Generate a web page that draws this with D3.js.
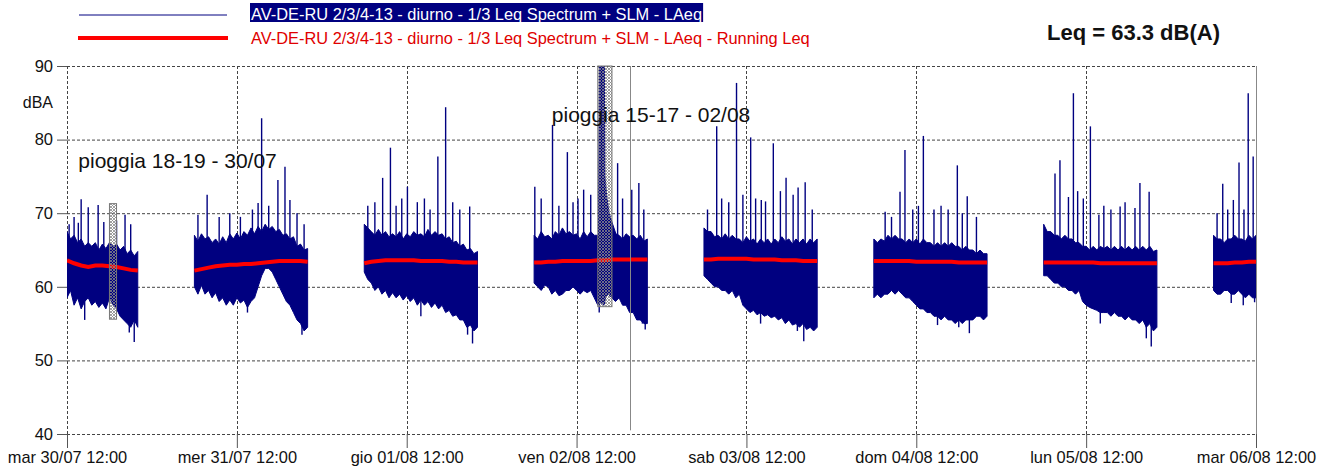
<!DOCTYPE html>
<html>
<head>
<meta charset="utf-8">
<script src="https://cdn.jsdelivr.net/npm/d3@7"></script>
<style>
body{margin:0;background:#fff}
svg{display:block}
text{font-family:Arial,"Liberation Sans",sans-serif}
</style>
</head>
<body>
<svg id="chart" width="1331" height="472"></svg>
<script>
// days shown (tick at 12:00 of each)
const dayDates = ["2019-07-30","2019-07-31","2019-08-01","2019-08-02","2019-08-03","2019-08-04","2019-08-05","2019-08-06"];
const tickLabels = ["mar 30/07 12:00","mer 31/07 12:00","gio 01/08 12:00","ven 02/08 12:00","sab 03/08 12:00","dom 04/08 12:00","lun 05/08 12:00","mar 06/08 12:00"];
const yTicks = [40,50,60,70,80,90];

// first hour of each daytime segment; band values every half hour, Leq every hour
const segStart = [12,6,6,6,6,6,6,6];

// dense band of LAeq: upper / lower edge per half hour (dBA)
const bandHigh = [
  [67.5,66.5,67,66,66.5,65.5,66,65.5,66,65,65.8,65.2,66,65.5,65.8,65,65.5,64.5,65,64.2,64.8],
  [67,66.2,67.2,66.5,66.8,66,66.5,65.8,66.8,66,67.2,66.5,67.3,66.5,67.5,67,68,67.2,68.2,67.5,68.5,67.8,68.2,67.5,67.8,67,67.2,66.5,66.8,65.5,65.8,65,65.2],
  [68.5,68,67.5,67,67.8,67,67.5,66.8,67.2,66.8,67.5,66.5,67.2,66.8,67.5,67,67.2,66.8,67.8,67,67.5,67,67.2,66.5,66.8,66,66.2,65.5,65.8,65,65.2,64.5,64.8],
  [67,66.5,67.5,66.8,67,66.5,67.5,67,68,67.2,67.5,67,67.2,66.5,67.5,66.8,67.5,67,67,66.5,67.5,67,68,67.2,67,66.5,67.2,66.8,67,66.5,67,66.2,66.5],
  [68,67.5,67.5,66.8,67,66.5,67.2,66.5,67,66.5,66.5,66,66.8,66.2,66.5,65.8,66.5,66,66.5,65.8,66.5,66,66.8,66.2,66.5,65.8,66.5,66,66.5,65.8,66.5,66,66.5],
  [66.5,66,66.5,66.2,67,66.5,67,66.5,66.5,66,66.5,66,66.5,65.8,66.5,66,66,65.5,66,65.5,66,65.5,66,65.5,65.5,65,65.5,65,65,64.5,65,64.5,64.5],
  [68.5,67.5,67.5,67,67,66.5,67,66.5,66.5,66,66,65.5,65.5,65,65.5,65,65.5,65.2,65.5,65,65.5,65,65.5,65,65.5,65,65.5,65,65.5,65,65.5,64.8,65],
  [67,66.5,66.5,66,66.5,66.5,67,66.5,66.5,66.2,67,66.5,67]
];
const bandLow = [
  [58.5,59.5,57.5,58.5,57,58,58.5,57.5,58,57.2,57.8,57,58.5,57.5,57,56,55.5,55,54.5,55.5,54.5],
  [60,59,60.2,59,59.5,58.5,59.2,58,58.5,57.5,58.2,57.5,58.5,57.8,58.2,57.2,58,58.5,60,61.5,62.5,62.5,62,61,60,59,58,57.5,56.5,55.5,55,54,54.5],
  [62,61,60.5,59.5,60,59,59.5,58.5,59.2,58.5,59,58.2,58.8,58,58.5,57.5,58.2,57.5,58,57.2,57.8,57,57.5,56.5,56.8,56,56.2,55.5,55.5,54.5,54.8,54,54.5],
  [60.5,60,59.5,60.2,60,59,59.5,58.8,59,59.5,59.5,60,59.5,59,59.5,59.2,59.5,58.5,57.5,58.5,58.5,59,58.5,58,58.5,57.5,57.5,56.5,56.5,55.5,55.5,55,55],
  [61.5,61,60.5,60,60,59.5,59.5,59,59.5,58.5,59,57.5,57,56.5,56.8,56.2,56.5,56,56.2,55.8,56,55.5,55.8,55,55.5,54.8,55,54.5,55,54.2,54.5,54,54.5],
  [58.5,59,58.5,59,59,59.5,59,59.5,59,58.5,58.5,58,57.5,57,57,56.5,56.5,56,56,55.5,56,55.5,55.5,55,55.5,55,55.5,55.5,55.5,56,56,55.5,56],
  [61.5,61.5,61,60.5,60.5,60,60,59.5,59.5,59,59.5,58,57.5,57.2,57,56.8,56.5,56.5,56.5,56,56.5,56,56,55.5,56,55.5,55.5,55,55.5,54.5,55,54,54.5],
  [59.5,59,59,59.5,59.5,59,59,59.5,59,58.5,59,58.5,58.5]
];
// running Leq per hour
const runningLeq = [
  [63.6,63.2,62.9,62.7,62.9,62.9,62.8,62.7,62.5,62.3,62.2],
  [62.2,62.4,62.6,62.8,62.9,63,63,63.1,63.1,63.2,63.3,63.4,63.5,63.5,63.5,63.5,63.4],
  [63.2,63.4,63.5,63.6,63.6,63.6,63.6,63.6,63.5,63.5,63.5,63.5,63.4,63.4,63.3,63.3,63.3],
  [63.3,63.3,63.4,63.4,63.5,63.5,63.5,63.5,63.5,63.6,63.6,63.7,63.7,63.7,63.7,63.7,63.7],
  [63.7,63.7,63.8,63.8,63.8,63.8,63.8,63.7,63.7,63.7,63.7,63.6,63.6,63.6,63.5,63.5,63.5],
  [63.5,63.5,63.5,63.5,63.5,63.5,63.4,63.4,63.4,63.4,63.4,63.4,63.3,63.3,63.3,63.3,63.3],
  [63.3,63.3,63.3,63.3,63.3,63.3,63.3,63.3,63.2,63.2,63.2,63.2,63.2,63.2,63.2,63.2,63.2],
  [63.2,63.2,63.2,63.3,63.3,63.4,63.4]
];
// single peaks [hour, dBA]
const spikes = [
  [[12.3,68.5],[13.0,69.5],[13.6,68.7],[14.0,71.9],[15.0,70.8],[16.4,71.1],[17.2,68.8],[19.0,69.0],[20.2,69.8],[21.0,68.5]],
  [[6.5,69.8],[7.8,72.5],[9.5,69.5],[11.0,70.0],[12.5,69.5],[14.2,70.5],[15.0,71.4],[15.5,82.9],[16.5,71.0],[17.8,74.5],[18.8,76.3],[19.5,71.8],[20.5,70.0],[21.5,68.5]],
  [[6.5,71.0],[7.5,71.5],[8.6,74.8],[9.7,78.9],[10.5,71.0],[11.3,72.0],[12.1,73.6],[13.5,71.5],[14.5,72.0],[15.3,70.5],[16.4,77.7],[17.5,84.4],[18.5,71.5],[19.5,70.5],[20.9,70.9]],
  [[6.1,73.6],[7.0,72.0],[8.6,82.0],[9.5,71.0],[10.7,78.3],[11.5,71.5],[12.2,72.0],[13.0,73.2],[14.0,72.5],[17.8,76.8],[18.5,72.0],[19.8,73.2],[20.8,74.1],[21.5,70.5]],
  [[6.5,70.5],[7.8,81.8],[8.5,72.0],[9.5,71.5],[10.6,87.7],[11.5,72.5],[12.6,80.3],[13.3,72.0],[14.1,71.8],[14.7,71.6],[15.8,79.5],[16.8,73.0],[17.6,74.8],[18.6,72.5],[19.3,73.5],[20.3,74.2],[21.3,70.5]],
  [[7.6,70.2],[8.5,69.5],[9.7,72.9],[10.4,78.6],[11.5,70.5],[12.3,71.0],[13.0,80.5],[14.5,70.5],[15.5,71.0],[16.5,70.5],[17.8,76.5],[18.5,70.0],[19.2,72.3],[20.5,69.5]],
  [[7.6,75.4],[8.3,77.2],[9.5,72.2],[10.2,86.3],[10.8,73.0],[11.6,72.0],[12.6,81.8],[13.8,69.8],[14.5,71.0],[15.5,70.5],[16.8,70.9],[17.5,71.5],[18.9,70.7],[19.6,74.1],[20.9,72.9]],
  [[6.5,70.0],[7.3,74.0],[8.0,70.5],[8.8,71.8],[9.6,76.9],[10.3,70.5],[10.9,86.3],[11.6,77.7]]
];
// single dips [hour, dBA]
const dips = [
  [[14.5,55.5],[20.8,53.8],[21.5,52.5]],
  [[13.5,56.5],[21.2,53.5],[21.6,54.2]],
  [[14.0,56.0],[20.6,53.5],[21.3,52.3]],
  [[15.2,56.5],[21.3,55.0],[21.7,54.2]],
  [[14.0,55.0],[19.2,54.0],[20.1,52.6]],
  [[15.0,54.8],[18.0,54.5],[19.5,53.7]],
  [[14.0,55.0],[20.5,53.0],[21.2,51.9]],
  [[8.5,57.8],[10.2,57.5],[11.8,57.9]]
];
// rain burst on 02/08 (day index 3)
const rainHours = [15.1,15.25,15.9,16.0,16.3,16.6,17.1,17.8];
const rainHigh = [67,95,95,75,72,70,68.5,66.5];
const rainLow = [62,58,57.5,58,60,61,61.5,62];

// rain periods [day index, from hour, to hour, low dBA, high dBA]
const rainBoxes = [[0,18,19,55.6,71.3],[3,15,17,57.3,90]];
const rainNotes = [[0,13.6,76.2,"pioggia 18-19 - 30/07"],[3,8.5,82.4,"pioggia 15-17 - 02/08"]];
const markerTime = [3,19.6];

const legendNames = ["AV-DE-RU 2/3/4-13 - diurno - 1/3 Leq Spectrum + SLM - LAeq",
                     "AV-DE-RU 2/3/4-13 - diurno - 1/3 Leq Spectrum + SLM - LAeq - Running Leq"];
const totalLeq = "Leq = 63.3 dB(A)";

const navy = "#000080", red = "#ff0000";
const margin = {left:67, right:75, top:66, bottom:38};
const W = 1331, H = 472;

const parseDay = d3.timeParse("%Y-%m-%d");
const days = dayDates.map(parseDay);
const at = (d, h) => new Date(days[d].getTime() + h*36e5);

const x = d3.scaleTime().domain([at(0,12), at(7,12)]).range([margin.left, W - margin.right]);
const y = d3.scaleLinear().domain([40,90]).range([H - margin.bottom, margin.top]);

const svg = d3.select("#chart");
const defs = svg.append("defs");
defs.append("clipPath").attr("id","plot")
  .append("rect").attr("x",x.range()[0]).attr("y",y(90)).attr("width",x.range()[1]-x.range()[0]).attr("height",y(40)-y(90));
const pat = defs.append("pattern").attr("id","hatch").attr("patternUnits","userSpaceOnUse").attr("width",3).attr("height",3);
pat.append("path").attr("d","M0,0L3,3M3,0L0,3").attr("stroke","#888").attr("stroke-width",0.8);

// grid
const grid = svg.append("g").attr("stroke","#444").attr("stroke-dasharray","3,2").attr("stroke-width",1);
grid.selectAll("line.h").data(yTicks).join("line").attr("class","h")
  .attr("x1",x.range()[0]).attr("x2",x.range()[1]).attr("y1",d=>y(d)+0.5).attr("y2",d=>y(d)+0.5);
grid.selectAll("line.v").data(days.slice(0,7)).join("line").attr("class","v")
  .attr("x1",(d,i)=>Math.round(x(at(i,12)))+0.5).attr("x2",(d,i)=>Math.round(x(at(i,12)))+0.5)
  .attr("y1",y(90)).attr("y2",y(40));
svg.append("line").attr("x1",x.range()[1]+0.5).attr("x2",x.range()[1]+0.5).attr("y1",y(90)).attr("y2",y(40))
  .attr("stroke","#888");

const plot = svg.append("g").attr("clip-path","url(#plot)");

// dense LAeq bands
const band = d3.area().x(d=>x(d.t)).y0(d=>y(d.lo)).y1(d=>y(d.hi));
bandHigh.forEach((hi, d) => {
  const pts = hi.map((v,i)=>({t:at(d,segStart[d]+i/2), hi:v, lo:bandLow[d][i]}));
  plot.append("path").attr("d",band(pts)).attr("fill",navy).attr("stroke",navy).attr("stroke-width",1);
});

// peaks and dips
spikes.concat(dips).forEach((list, k) => {
  const d = k % spikes.length;
  plot.append("g").selectAll("line").data(list).join("line")
    .attr("x1",p=>x(at(d,p[0]))).attr("x2",p=>x(at(d,p[0])))
    .attr("y1",y(63)).attr("y2",p=>y(p[1]))
    .attr("stroke",navy).attr("stroke-width",1.4);
});

// rain burst
const rainPts = rainHours.map((h,i)=>({t:at(3,h), hi:rainHigh[i], lo:rainLow[i]}));
plot.append("path").attr("d",band(rainPts)).attr("fill",navy).attr("stroke",navy).attr("stroke-width",1);

// running Leq
const leqLine = d3.line().x(d=>x(d.t)).y(d=>y(d.v));
runningLeq.forEach((vals, d) => {
  const pts = vals.map((v,i)=>({t:at(d,segStart[d]+i), v:v}));
  plot.append("path").attr("d",leqLine(pts)).attr("fill","none").attr("stroke",red).attr("stroke-width",4);
});

// rain periods
svg.append("g").selectAll("rect").data(rainBoxes).join("rect")
  .attr("x",b=>x(at(b[0],b[1]))).attr("width",b=>x(at(b[0],b[2]))-x(at(b[0],b[1])))
  .attr("y",b=>y(b[4])).attr("height",b=>y(b[3])-y(b[4]))
  .attr("fill","url(#hatch)").attr("stroke","#777").attr("stroke-width",1);

svg.append("line")
  .attr("x1",Math.round(x(at(markerTime[0],markerTime[1])))+0.5).attr("x2",Math.round(x(at(markerTime[0],markerTime[1])))+0.5)
  .attr("y1",y(90)).attr("y2",y(40.5)).attr("stroke","#888").attr("stroke-width",1);

svg.append("g").selectAll("text").data(rainNotes).join("text")
  .attr("x",n=>x(at(n[0],n[1]))).attr("y",n=>y(n[2]))
  .attr("font-size",21).attr("fill","#111").text(n=>n[3]);

// axes
const yAxis = svg.append("g").attr("transform",`translate(${margin.left},0)`)
  .call(d3.axisLeft(y).tickValues(yTicks).tickSize(10).tickPadding(4));
yAxis.select(".domain").remove();
yAxis.selectAll("line").attr("stroke","#555");
yAxis.selectAll("text").attr("font-size",16.5).attr("fill","#111").attr("font-family","Arial, 'Liberation Sans', sans-serif");
svg.append("text").attr("x",53).attr("y",108).attr("text-anchor","end").attr("font-size",16).attr("fill","#111").text("dBA");

const xAxis = svg.append("g").attr("transform",`translate(0,${H-margin.bottom})`)
  .call(d3.axisBottom(x).tickValues(days.map((d,i)=>at(i,12))).tickSize(14).tickPadding(3)
    .tickFormat((d,i)=>tickLabels[i]));
xAxis.select(".domain").remove();
xAxis.selectAll("line").attr("stroke","#555");
xAxis.selectAll("text").attr("font-size",16.4).attr("fill","#111").attr("font-family","Arial, 'Liberation Sans', sans-serif");

// legend
const leg = svg.append("g");
leg.append("line").attr("x1",79).attr("x2",227).attr("y1",15).attr("y2",15).attr("stroke",navy).attr("stroke-width",1);
leg.append("line").attr("x1",78).attr("x2",228).attr("y1",38).attr("y2",38).attr("stroke",red).attr("stroke-width",4);
const t1 = leg.append("text").attr("x",251).attr("y",20).attr("font-size",16.4).attr("fill","#fff").text(legendNames[0]);
const bb = t1.node().getBBox();
leg.insert("rect","text").attr("x",bb.x-1).attr("y",3).attr("width",bb.width+2).attr("height",19).attr("fill",navy);
leg.append("text").attr("x",251).attr("y",44).attr("font-size",16.4).attr("fill","#e00000").text(legendNames[1]);

svg.append("text").attr("x",1047).attr("y",40).attr("font-size",22).attr("font-weight","bold").attr("fill","#111").text(totalLeq);
</script>
</body>
</html>
